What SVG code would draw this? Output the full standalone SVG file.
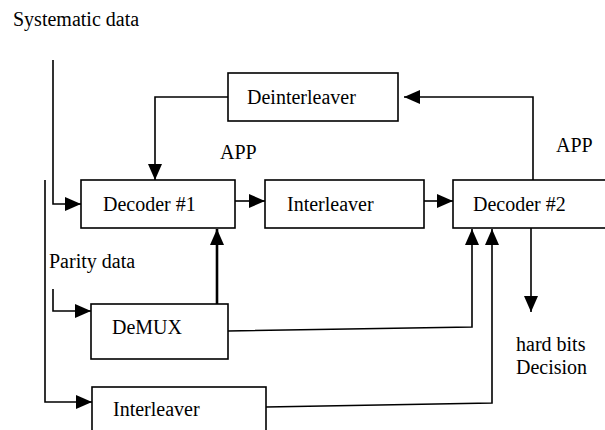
<svg xmlns="http://www.w3.org/2000/svg" width="605" height="430" viewBox="0 0 605 430">
<style>
text{font-family:"Liberation Serif","Times New Roman","DejaVu Serif",serif;font-size:20px;fill:#000}
.box{fill:#fff;stroke:#000;stroke-width:1.6}
.ln{fill:none;stroke:#000;stroke-width:1.6}
.thick{fill:none;stroke:#000;stroke-width:2.6}
</style>
<defs>
<marker id="ah" markerUnits="userSpaceOnUse" markerWidth="16" markerHeight="14" refX="16" refY="7" orient="auto">
<path d="M0,0 L16,7 L0,14 Z" fill="#000"/>
</marker>
</defs>
<rect width="605" height="430" fill="#fff"/>
<text x="13" y="26">Systematic data</text>
<text x="220" y="159">APP</text>
<text x="556" y="152">APP</text>
<text x="49" y="268">Parity data</text>
<text x="516" y="351">hard bits</text>
<text x="516" y="374">Decision</text>
<g id="connectors">
<path class="ln" d="M53,60 V204 H81" marker-end="url(#ah)"/>
<path class="ln" d="M228,97 H155 V180" marker-end="url(#ah)"/>
<path class="ln" d="M235,201 H265" marker-end="url(#ah)"/>
<path class="ln" d="M424,201 H453" marker-end="url(#ah)"/>
<path class="ln" d="M533,180 V97 H404" marker-end="url(#ah)"/>
<path class="ln" d="M45,180 V402 H92" marker-end="url(#ah)"/>
<path class="ln" d="M53,289 V311 H91" marker-end="url(#ah)"/>
<path class="thick" d="M217,304 V229" marker-end="url(#ah)"/>
<path class="ln" d="M228,331 L472,327 V229" marker-end="url(#ah)"/>
<path class="ln" d="M266,407 L492,403 V229" marker-end="url(#ah)"/>
<path class="ln" d="M531,228 V312" marker-end="url(#ah)"/>
</g>
<g id="deinterleaver">
<rect class="box" x="228" y="73" width="170" height="48"/>
<text x="247" y="104">Deinterleaver</text>
</g>
<g id="decoder1">
<rect class="box" x="81" y="180" width="154" height="48"/>
<text x="103" y="211">Decoder #1</text>
</g>
<g id="interleaver1">
<rect class="box" x="265" y="180" width="159" height="48"/>
<text x="287" y="211">Interleaver</text>
</g>
<g id="decoder2">
<rect class="box" x="453" y="180" width="200" height="48"/>
<text x="473" y="211">Decoder #2</text>
</g>
<g id="demux">
<rect class="box" x="91" y="304" width="137" height="55"/>
<text x="112" y="334">DeMUX</text>
</g>
<g id="interleaver2">
<rect class="box" x="92" y="387" width="174" height="60"/>
<text x="113" y="416">Interleaver</text>
</g>
</svg>
